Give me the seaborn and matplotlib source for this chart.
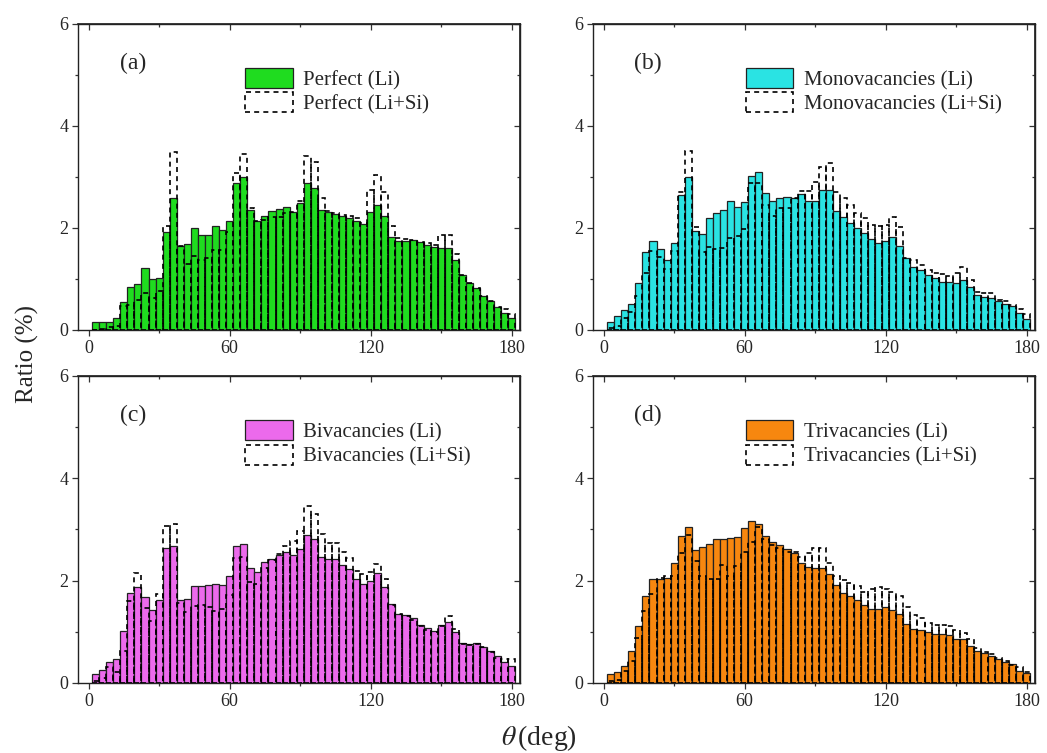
import numpy as np
import pandas as pd
import matplotlib
matplotlib.use("Agg")
import matplotlib.pyplot as plt
from matplotlib.patches import Patch
from matplotlib.ticker import MultipleLocator
import seaborn as sns

# Bond-angle distributions, 3-degree bins centred at 3, 6, ..., 180 deg
theta = np.arange(3, 181, 3)
bin_width = 3
bin_range = (1.5, 181.5)

perfect_li = [0.15, 0.15, 0.15, 0.23, 0.54, 0.85, 0.90, 1.21, 0.99, 1.02,
              1.93, 2.58, 1.65, 1.69, 1.99, 1.86, 1.86, 2.03, 1.96, 2.14,
              2.88, 3.00, 2.35, 2.14, 2.24, 2.33, 2.37, 2.42, 2.31, 2.48,
              2.88, 2.78, 2.35, 2.31, 2.27, 2.24, 2.19, 2.14, 2.07, 2.31,
              2.45, 2.24, 1.82, 1.74, 1.75, 1.76, 1.73, 1.67, 1.62, 1.60,
              1.60, 1.37, 1.07, 0.93, 0.83, 0.67, 0.56, 0.46, 0.33, 0.23]
perfect_lisi = [0.00, 0.02, 0.05, 0.08, 0.47, 0.49, 0.59, 0.72, 0.62, 0.76,
                2.03, 3.48, 1.65, 1.29, 1.45, 1.37, 1.41, 1.57, 1.57, 1.93,
                3.07, 3.45, 2.39, 2.14, 2.16, 2.21, 2.21, 2.30, 2.31, 2.52,
                3.41, 3.30, 2.58, 2.34, 2.30, 2.25, 2.24, 2.19, 2.10, 2.75,
                3.04, 2.71, 2.03, 1.80, 1.78, 1.76, 1.73, 1.71, 1.67, 1.86,
                1.86, 1.49, 1.07, 0.92, 0.82, 0.67, 0.57, 0.46, 0.41, 0.31]

mono_li = [0.16, 0.27, 0.39, 0.50, 0.93, 1.52, 1.75, 1.59, 1.37, 1.70,
           2.65, 2.99, 1.95, 1.88, 2.20, 2.30, 2.35, 2.53, 2.41, 2.50,
           3.02, 3.10, 2.68, 2.53, 2.59, 2.61, 2.59, 2.67, 2.52, 2.52,
           2.75, 2.75, 2.33, 2.22, 2.10, 1.99, 1.90, 1.78, 1.71, 1.75,
           1.83, 1.65, 1.42, 1.24, 1.18, 1.08, 1.01, 0.95, 0.95, 0.92,
           0.98, 0.84, 0.69, 0.64, 0.62, 0.56, 0.50, 0.47, 0.34, 0.21]
mono_lisi = [0.03, 0.07, 0.23, 0.36, 0.67, 1.12, 1.54, 1.44, 1.19, 1.54,
             2.71, 3.50, 2.01, 1.52, 1.63, 1.59, 1.60, 1.81, 1.84, 1.97,
             2.88, 2.88, 2.45, 2.24, 2.39, 2.40, 2.59, 2.73, 2.73, 2.91,
             3.19, 3.27, 2.71, 2.58, 2.45, 2.29, 2.19, 2.06, 2.03, 2.06,
             2.22, 2.01, 1.42, 1.37, 1.27, 1.18, 1.11, 1.09, 1.05, 1.12,
             1.23, 0.98, 0.75, 0.72, 0.73, 0.58, 0.56, 0.49, 0.42, 0.31]

bi_li = [0.18, 0.26, 0.41, 0.47, 1.01, 1.76, 1.88, 1.68, 1.42, 1.63,
         2.63, 2.68, 1.63, 1.65, 1.90, 1.90, 1.91, 1.94, 1.91, 2.09,
         2.68, 2.71, 2.25, 2.17, 2.37, 2.42, 2.50, 2.55, 2.50, 2.61,
         2.89, 2.82, 2.46, 2.42, 2.42, 2.30, 2.22, 2.04, 1.93, 1.99,
         2.14, 1.88, 1.54, 1.35, 1.32, 1.27, 1.14, 1.07, 1.01, 1.13,
         1.20, 0.99, 0.78, 0.76, 0.78, 0.71, 0.62, 0.52, 0.41, 0.34]
bi_lisi = [0.03, 0.10, 0.31, 0.21, 0.62, 1.60, 2.14, 1.47, 1.21, 1.73,
           3.06, 3.10, 1.57, 1.39, 1.50, 1.52, 1.49, 1.41, 1.44, 1.71,
           2.45, 2.46, 1.97, 1.93, 2.25, 2.40, 2.52, 2.68, 2.78, 2.97,
           3.45, 3.30, 2.91, 2.73, 2.73, 2.56, 2.45, 2.19, 2.12, 2.17,
           2.32, 2.03, 1.52, 1.34, 1.31, 1.23, 1.11, 1.03, 0.99, 1.11,
           1.31, 1.06, 0.76, 0.75, 0.77, 0.70, 0.60, 0.49, 0.46, 0.47]

tri_li = [0.18, 0.21, 0.33, 0.63, 1.12, 1.70, 2.03, 2.03, 2.06, 2.35,
          2.88, 3.05, 2.59, 2.66, 2.71, 2.81, 2.81, 2.83, 2.86, 3.03,
          3.17, 3.10, 2.88, 2.75, 2.69, 2.61, 2.54, 2.35, 2.27, 2.24,
          2.25, 2.12, 1.91, 1.76, 1.70, 1.63, 1.52, 1.45, 1.45, 1.48,
          1.42, 1.35, 1.16, 1.06, 1.03, 0.99, 0.96, 0.95, 0.93, 0.86,
          0.85, 0.72, 0.62, 0.59, 0.52, 0.47, 0.41, 0.38, 0.24, 0.20]
tri_lisi = [0.03, 0.05, 0.23, 0.42, 0.88, 1.41, 1.73, 2.06, 2.09, 2.09,
            2.54, 2.89, 2.39, 2.09, 2.04, 2.03, 2.30, 2.09, 2.29, 2.55,
            2.75, 3.04, 2.81, 2.69, 2.63, 2.56, 2.56, 2.47, 2.54, 2.63,
            2.63, 2.35, 2.10, 2.01, 1.95, 1.90, 1.78, 1.84, 1.88, 1.83,
            1.78, 1.70, 1.48, 1.32, 1.27, 1.18, 1.14, 1.13, 1.11, 1.03,
            0.98, 0.85, 0.69, 0.60, 0.56, 0.49, 0.42, 0.36, 0.31, 0.21]

panel_tags = ["(a)", "(b)", "(c)", "(d)"]
structures = ["Perfect", "Monovacancies", "Bivacancies", "Trivacancies"]
fill_colors = ["#1fdc1f", "#2ae3e3", "#ec6aec", "#f7870f"]
li_series = [perfect_li, mono_li, bi_li, tri_li]
lisi_series = [perfect_lisi, mono_lisi, bi_lisi, tri_lisi]

sns.set_theme(style="ticks")
plt.rcParams["font.family"] = ["Liberation Serif", "DejaVu Serif"]
plt.rcParams["mathtext.fontset"] = "stix"

fig = plt.figure(figsize=(10.47, 7.53), dpi=100)

# axes boxes in figure fractions: left, bottom, width, height
boxes = [
    (0.0745, 0.5618, 0.4222, 0.4064),
    (0.5664, 0.5618, 0.4222, 0.4064),
    (0.0745, 0.0930, 0.4222, 0.4077),
    (0.5664, 0.0930, 0.4222, 0.4077),
]

dash = (0, (3, 2.5))

for k in range(4):
    ax = fig.add_axes(boxes[k])
    df = pd.DataFrame({"theta": theta, "li": li_series[k], "lisi": lisi_series[k]})

    sns.histplot(data=df, x="theta", weights="li", binwidth=bin_width,
                 binrange=bin_range, color=fill_colors[k], edgecolor="#222222",
                 linewidth=0.9, alpha=1.0, ax=ax, zorder=2)
    sns.histplot(data=df, x="theta", weights="lisi", binwidth=bin_width,
                 binrange=bin_range, fill=False, color="black",
                 linewidth=1.2, linestyle=dash, ax=ax, zorder=3)

    ax.set_xlim(-4.5, 183.5)
    ax.set_ylim(0, 6)
    ax.set_xlabel("")
    ax.set_ylabel("")
    ax.xaxis.set_major_locator(MultipleLocator(60))
    ax.xaxis.set_minor_locator(MultipleLocator(30))
    ax.yaxis.set_major_locator(MultipleLocator(2))
    ax.yaxis.set_minor_locator(MultipleLocator(1))
    ax.tick_params(which="both", direction="out", labelsize=13,
                   width=0.9, color="#333333", pad=3)
    ax.tick_params(which="major", length=4)
    ax.tick_params(which="minor", length=2.5)
    for side in ["top", "right", "bottom", "left"]:
        ax.spines[side].set_visible(True)
        ax.spines[side].set_linewidth(1.0)
        ax.spines[side].set_color("#222222")

    # inward ticks on the top and right frame edges
    top = ax.secondary_xaxis("top")
    top.xaxis.set_major_locator(MultipleLocator(60))
    top.xaxis.set_minor_locator(MultipleLocator(30))
    top.tick_params(which="both", direction="in", labeltop=False,
                    color="#333333", width=0.9)
    top.tick_params(which="major", length=4)
    top.tick_params(which="minor", length=2.5)
    right = ax.secondary_yaxis("right")
    right.yaxis.set_major_locator(MultipleLocator(2))
    right.yaxis.set_minor_locator(MultipleLocator(1))
    right.tick_params(which="both", direction="in", labelright=False,
                      color="#333333", width=0.9)
    right.tick_params(which="major", length=4)
    right.tick_params(which="minor", length=2.5)

    ax.text(0.125, 0.87, panel_tags[k], transform=ax.transAxes,
            fontsize=17, ha="center", va="center")

    handles = [
        Patch(facecolor=fill_colors[k], edgecolor="#222222", linewidth=0.9),
        Patch(facecolor="none", edgecolor="black", linewidth=1.2, linestyle=dash),
    ]
    labels = [f"{structures[k]} (Li)", f"{structures[k]} (Li+Si)"]
    leg_x = 0.377 if k % 2 == 0 else 0.345
    ax.legend(handles, labels, loc="upper left", bbox_to_anchor=(leg_x, 0.855),
              frameon=False, fontsize=15, handlelength=2.3, handleheight=1.1,
              labelspacing=0.1, handletextpad=0.5, borderpad=0.0,
              borderaxespad=0.0)

fig.text(0.026, 0.53, "Ratio (%)", rotation=90, fontsize=18,
         ha="center", va="center")
fig.text(0.515, 0.02, r"$\theta\,$(deg)", fontsize=20, ha="center", va="center")

fig.savefig("out.png", dpi=100)
